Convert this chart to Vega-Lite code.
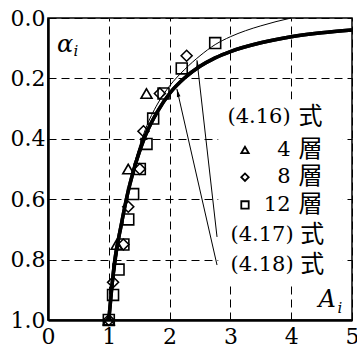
{
  "$schema": "https://vega.github.io/schema/vega-lite/v6.json",
  "width": 304,
  "height": 302,
  "autosize": "none",
  "padding": {"left": 48, "top": 18, "right": 5, "bottom": 27},
  "background": "white",
  "config": {
    "view": {"stroke": "black", "strokeWidth": 1.5},
    "font": "DejaVu Serif",
    "axis": {
      "ticks": false, "domain": true, "domainColor": "black", "domainWidth": 2.5,
      "labelFont": "DejaVu Serif", "labelFontSize": 22, "labelColor": "black", "labelFlush": false
    }
  },
  "datasets": {
    "thick": [
      {"A": 1.0, "alpha": 1.0}, {"A": 1.05, "alpha": 0.89}, {"A": 1.1, "alpha": 0.8}, {"A": 1.2, "alpha": 0.69},
      {"A": 1.3, "alpha": 0.59}, {"A": 1.4, "alpha": 0.51}, {"A": 1.5, "alpha": 0.445}, {"A": 1.6, "alpha": 0.39},
      {"A": 1.8, "alpha": 0.31}, {"A": 2.0, "alpha": 0.25}, {"A": 2.25, "alpha": 0.198}, {"A": 2.5, "alpha": 0.16},
      {"A": 2.75, "alpha": 0.132}, {"A": 3.0, "alpha": 0.111}, {"A": 3.5, "alpha": 0.082}, {"A": 4.0, "alpha": 0.062},
      {"A": 4.5, "alpha": 0.049}, {"A": 5.0, "alpha": 0.04}
    ],
    "thin": [
      {"A": 1.0, "alpha": 1.0}, {"A": 1.1, "alpha": 0.84}, {"A": 1.2, "alpha": 0.7}, {"A": 1.4, "alpha": 0.5},
      {"A": 1.6, "alpha": 0.37}, {"A": 1.8, "alpha": 0.285}, {"A": 2.0, "alpha": 0.225}, {"A": 2.25, "alpha": 0.17},
      {"A": 2.5, "alpha": 0.125}, {"A": 2.75, "alpha": 0.088}, {"A": 3.0, "alpha": 0.062}, {"A": 3.25, "alpha": 0.042},
      {"A": 3.5, "alpha": 0.026}, {"A": 3.75, "alpha": 0.012}, {"A": 4.0, "alpha": 0.0}
    ],
    "markers": [
      {"A": 1.0, "alpha": 1.0, "layers": "4"}, {"A": 1.13, "alpha": 0.75, "layers": "4"},
      {"A": 1.32, "alpha": 0.5, "layers": "4"}, {"A": 1.62, "alpha": 0.25, "layers": "4"},
      {"A": 1.0, "alpha": 1.0, "layers": "8"}, {"A": 1.07, "alpha": 0.875, "layers": "8"},
      {"A": 1.24, "alpha": 0.75, "layers": "8"}, {"A": 1.32, "alpha": 0.625, "layers": "8"},
      {"A": 1.51, "alpha": 0.5, "layers": "8"}, {"A": 1.57, "alpha": 0.375, "layers": "8"},
      {"A": 1.84, "alpha": 0.25, "layers": "8"}, {"A": 2.28, "alpha": 0.125, "layers": "8"},
      {"A": 1.0, "alpha": 1.0, "layers": "12"}, {"A": 1.07, "alpha": 0.917, "layers": "12"},
      {"A": 1.16, "alpha": 0.833, "layers": "12"}, {"A": 1.24, "alpha": 0.75, "layers": "12"},
      {"A": 1.32, "alpha": 0.667, "layers": "12"}, {"A": 1.4, "alpha": 0.583, "layers": "12"},
      {"A": 1.51, "alpha": 0.5, "layers": "12"}, {"A": 1.62, "alpha": 0.417, "layers": "12"},
      {"A": 1.73, "alpha": 0.333, "layers": "12"}, {"A": 1.9, "alpha": 0.25, "layers": "12"},
      {"A": 2.2, "alpha": 0.167, "layers": "12"}, {"A": 2.75, "alpha": 0.083, "layers": "12"}
    ],
    "legendSymbols": [
      {"A": 3.24, "alpha": 0.437, "layers": "4"},
      {"A": 3.24, "alpha": 0.527, "layers": "8"},
      {"A": 3.24, "alpha": 0.619, "layers": "12"}
    ],
    "legendNum": [
      {"A": 3.99, "alpha": 0.328, "label": "(4.16)"},
      {"A": 3.99, "alpha": 0.437, "label": "4"},
      {"A": 3.99, "alpha": 0.527, "label": "8"},
      {"A": 3.99, "alpha": 0.619, "label": "12"},
      {"A": 4.04, "alpha": 0.719, "label": "(4.17)"},
      {"A": 4.04, "alpha": 0.818, "label": "(4.18)"}
    ],
    "legendCJK": [
      {"A": 4.12, "alpha": 0.328, "label": "式"},
      {"A": 4.12, "alpha": 0.437, "label": "層"},
      {"A": 4.12, "alpha": 0.527, "label": "層"},
      {"A": 4.12, "alpha": 0.619, "label": "層"},
      {"A": 4.15, "alpha": 0.719, "label": "式"},
      {"A": 4.15, "alpha": 0.818, "label": "式"}
    ],
    "leaders": [
      {"id": "4.17", "A": 2.45, "alpha": 0.14, "A2": 2.78, "alpha2": 0.725},
      {"id": "4.18", "A": 2.12, "alpha": 0.235, "A2": 2.78, "alpha2": 0.818}
    ],
    "box": [{"A": 2.8, "alpha": 0.27, "A2": 4.85, "alpha2": 0.874}]
  },
  "layer": [
    {
      "data": {"name": "thick"},
      "mark": {"type": "line", "color": "black", "strokeWidth": 3.5, "interpolate": "monotone"},
      "encoding": {
        "x": {"field": "A", "type": "quantitative", "scale": {"domain": [0, 5], "nice": false, "zero": false},
              "axis": {"values": [0, 1, 2, 3, 4, 5], "labelPadding": 6, "format": "d", "title": null,
                       "grid": true, "gridColor": "black", "gridDash": [8, 5], "gridWidth": 1, "gridOpacity": 1}},
        "y": {"field": "alpha", "type": "quantitative", "scale": {"domain": [0, 1], "reverse": true, "nice": false},
              "axis": {"values": [0, 0.2, 0.4, 0.6, 0.8, 1.0], "format": ".1f", "labelPadding": 3, "title": null,
                       "grid": true, "gridColor": "black", "gridDash": [8, 5], "gridWidth": 1, "gridOpacity": 1}}
      }
    },
    {
      "data": {"name": "box"},
      "mark": {"type": "rect", "fill": "white"},
      "encoding": {
        "x": {"field": "A", "type": "quantitative"}, "x2": {"field": "A2"},
        "y": {"field": "alpha", "type": "quantitative"}, "y2": {"field": "alpha2"}
      }
    },
    {
      "data": {"name": "thin"},
      "mark": {"type": "line", "color": "black", "strokeWidth": 1, "interpolate": "monotone"},
      "encoding": {
        "x": {"field": "A", "type": "quantitative"},
        "y": {"field": "alpha", "type": "quantitative"}
      }
    },
    {
      "data": {"name": "thick"},
      "mark": {"type": "line", "color": "black", "strokeWidth": 3.5, "interpolate": "monotone"},
      "encoding": {
        "x": {"field": "A", "type": "quantitative"},
        "y": {"field": "alpha", "type": "quantitative"}
      }
    },
    {
      "data": {"name": "markers"},
      "mark": {"type": "point", "filled": false, "stroke": "black", "strokeWidth": 1.6, "size": 120, "opacity": 1},
      "encoding": {
        "x": {"field": "A", "type": "quantitative"},
        "y": {"field": "alpha", "type": "quantitative"},
        "shape": {"field": "layers", "type": "nominal", "legend": null,
                  "scale": {"domain": ["4", "8", "12"], "range": ["triangle-up", "diamond", "square"]}}
      }
    },
    {
      "data": {"name": "legendSymbols"},
      "mark": {"type": "point", "filled": false, "stroke": "black", "strokeWidth": 1.8, "size": 55, "opacity": 1},
      "encoding": {
        "x": {"field": "A", "type": "quantitative"},
        "y": {"field": "alpha", "type": "quantitative"},
        "shape": {"field": "layers", "type": "nominal", "legend": null,
                  "scale": {"domain": ["4", "8", "12"], "range": ["triangle-up", "diamond", "square"]}}
      }
    },
    {
      "data": {"name": "leaders"},
      "mark": {"type": "rule", "color": "black", "strokeWidth": 1},
      "encoding": {
        "x": {"field": "A", "type": "quantitative"}, "x2": {"field": "A2"},
        "y": {"field": "alpha", "type": "quantitative"}, "y2": {"field": "alpha2"}
      }
    },
    {
      "data": {"name": "leaders"},
      "transform": [{"filter": "datum.id == '4.17'"}],
      "mark": {"type": "point", "shape": "M0,0L-0.45,2L0.45,2Z", "filled": true, "color": "black", "size": 64, "angle": 354, "opacity": 1},
      "encoding": {
        "x": {"field": "A", "type": "quantitative"},
        "y": {"field": "alpha", "type": "quantitative"}
      }
    },
    {
      "data": {"name": "leaders"},
      "transform": [{"filter": "datum.id == '4.18'"}],
      "mark": {"type": "point", "shape": "M0,0L-0.45,2L0.45,2Z", "filled": true, "color": "black", "size": 64, "angle": 347, "opacity": 1},
      "encoding": {
        "x": {"field": "A", "type": "quantitative"},
        "y": {"field": "alpha", "type": "quantitative"}
      }
    },
    {
      "data": {"name": "legendNum"},
      "mark": {"type": "text", "align": "right", "baseline": "middle", "font": "DejaVu Serif", "fontSize": 21, "color": "black"},
      "encoding": {
        "x": {"field": "A", "type": "quantitative"},
        "y": {"field": "alpha", "type": "quantitative"},
        "text": {"field": "label"}
      }
    },
    {
      "data": {"name": "legendCJK"},
      "mark": {"type": "text", "align": "left", "baseline": "middle", "font": "Noto Sans CJK JP", "fontSize": 24, "color": "black"},
      "encoding": {
        "x": {"field": "A", "type": "quantitative"},
        "y": {"field": "alpha", "type": "quantitative"},
        "text": {"field": "label"}
      }
    },
    {
      "data": {"values": [{"A": 0.15, "alpha": 0.09, "label": "α"}, {"A": 4.45, "alpha": 0.935, "label": "A"}]},
      "mark": {"type": "text", "align": "left", "baseline": "middle", "font": "DejaVu Serif", "fontSize": 24, "fontStyle": "italic", "color": "black"},
      "encoding": {
        "x": {"field": "A", "type": "quantitative"},
        "y": {"field": "alpha", "type": "quantitative"},
        "text": {"field": "label"}
      }
    },
    {
      "data": {"values": [{"A": 0.42, "alpha": 0.11, "label": "i"}, {"A": 4.76, "alpha": 0.96, "label": "i"}]},
      "mark": {"type": "text", "align": "left", "baseline": "middle", "font": "DejaVu Serif", "fontSize": 15, "fontStyle": "italic", "color": "black"},
      "encoding": {
        "x": {"field": "A", "type": "quantitative"},
        "y": {"field": "alpha", "type": "quantitative"},
        "text": {"field": "label"}
      }
    }
  ]
}
